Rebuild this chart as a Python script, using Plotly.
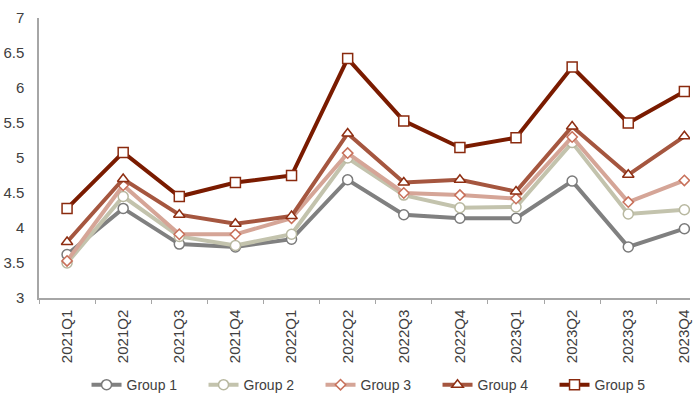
import plotly.graph_objects as go

categories = ["2021Q1", "2021Q2", "2021Q3", "2021Q4", "2022Q1", "2022Q2",
              "2022Q3", "2022Q4", "2023Q1", "2023Q2", "2023Q3", "2023Q4"]

group1 = [3.62, 4.28, 3.77, 3.73, 3.84, 4.69, 4.19, 4.14, 4.14, 4.67, 3.73, 3.99]
group2 = [3.50, 4.45, 3.88, 3.75, 3.91, 5.00, 4.47, 4.29, 4.30, 5.22, 4.20, 4.26]
group3 = [3.53, 4.61, 3.91, 3.91, 4.14, 5.07, 4.50, 4.47, 4.42, 5.30, 4.37, 4.68]
group4 = [3.80, 4.70, 4.19, 4.06, 4.17, 5.35, 4.65, 4.69, 4.52, 5.45, 4.76, 5.31]
group5 = [4.28, 5.08, 4.45, 4.65, 4.75, 6.42, 5.53, 5.15, 5.29, 6.30, 5.50, 5.95]

names = ["Group 1", "Group 2", "Group 3", "Group 4", "Group 5"]
series = [group1, group2, group3, group4, group5]
line_colors = ["#808080", "#C3C3AD", "#D5A597", "#A5563F", "#7A1B00"]
edge_colors = ["#7A7A7A", "#B8B8A0", "#C8705A", "#8E2E12", "#8A2A0E"]
symbols = ["circle", "circle", "diamond", "triangle-up", "square"]
sizes = [10, 10, 8, 10, 10]

fig = go.Figure()
for name, vals, lc, ec, sym, sz in zip(names, series, line_colors, edge_colors, symbols, sizes):
    fig.add_trace(go.Scatter(
        x=categories, y=vals, name=name, mode="lines+markers",
        line=dict(color=lc, width=4),
        marker=dict(symbol=sym, size=sz, color="white",
                    line=dict(color=ec, width=1.5)),
    ))

fig.update_layout(
    width=700, height=402,
    margin=dict(l=39, r=10, t=18, b=104, autoexpand=False),
    paper_bgcolor="white", plot_bgcolor="white",
    font=dict(family="Liberation Sans, Arial, sans-serif", size=14, color="#404040"),
    showlegend=True,
    legend=dict(orientation="h", x=0.073, xanchor="left", y=-0.311, yanchor="middle",
                font=dict(size=14, color="#404040"), itemwidth=30,
                entrywidth=72, entrywidthmode="pixels",
                traceorder="normal", bgcolor="rgba(0,0,0,0)"),
)
fig.update_xaxes(
    type="category", range=[-0.5, 11.1], automargin=False,
    showline=True, linecolor="#A6A6A6", linewidth=1.5,
    ticks="outside", tickson="boundaries", ticklen=4, tickcolor="#A6A6A6",
    tickangle=-90, showgrid=False, zeroline=False, ticklabelstandoff=4,
    tickfont=dict(size=15, color="#404040"),
)
fig.update_yaxes(
    range=[3, 7], dtick=0.5, automargin=False,
    showline=True, linecolor="#A6A6A6", linewidth=1.5,
    ticks="", showgrid=False, zeroline=False, ticklabelstandoff=10,
    tickfont=dict(size=15, color="#404040"),
)

# remove the browser's default 8px body margin so the figure fills the window
fig.write_html("out.html", config={"displayModeBar": False},
               post_script="document.body.style.margin='0px';")
